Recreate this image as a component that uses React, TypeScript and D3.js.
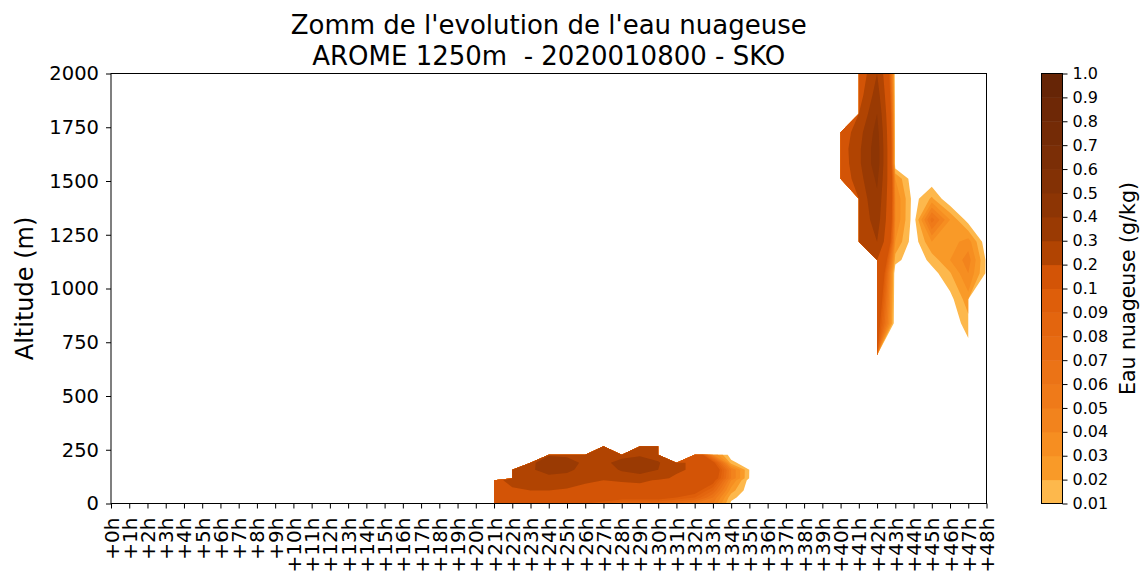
import React, { useEffect, useRef } from 'react';
import * as d3 from 'd3';

// Echéances affichées sur l'axe des x (heures depuis le run)
const leadHours = d3.range(0, 49);
const altitudeTicks = [0, 250, 500, 750, 1000, 1250, 1500, 1750, 2000];

// Niveaux de contourf et étiquettes de la barre de couleur
const cloudLevels = [0.01, 0.02, 0.03, 0.04, 0.05, 0.06, 0.07, 0.08, 0.09, 0.1, 0.2, 0.3, 0.4, 0.5, 0.6, 0.7, 0.8, 0.9, 1.0];
const cloudLevelLabels = ['0.01', '0.02', '0.03', '0.04', '0.05', '0.06', '0.07', '0.08', '0.09', '0.1', '0.2', '0.3', '0.4', '0.5', '0.6', '0.7', '0.8', '0.9', '1.0'];

// Nuage bas (brouillard / stratus) : une colonne par échéance, valeurs par altitude, null = masqué
const lowHours = [21, 22, 23, 24, 25, 26, 27, 28, 29, 30, 31, 32, 33, 34, 35];
const lowAltitudes = [0, 28, 60, 108, 118, 157, 190, 227, 266];
const lowCloud: (number | null)[][] = [
  [0.12, 0.14, 0.16, 0.18, null, null, null, null, null],
  [0.13, 0.16, 0.19, 0.22, 0.23, 0.25, null, null, null],
  [0.13, 0.17, 0.2, 0.24, 0.26, 0.29, 0.28, null, null],
  [0.12, 0.16, 0.2, 0.25, 0.28, 0.33, 0.35, 0.29, null],
  [0.11, 0.15, 0.19, 0.24, 0.27, 0.32, 0.34, 0.28, null],
  [0.1, 0.14, 0.18, 0.21, 0.23, 0.27, 0.28, 0.26, null],
  [0.09, 0.12, 0.16, 0.2, 0.22, 0.26, 0.28, 0.25, 0.21],
  [0.08, 0.11, 0.15, 0.21, 0.25, 0.31, 0.33, 0.27, null],
  [0.08, 0.11, 0.15, 0.22, 0.27, 0.33, 0.34, 0.29, 0.22],
  [0.08, 0.11, 0.14, 0.19, 0.23, 0.3, 0.31, 0.25, 0.2],
  [0.07, 0.1, 0.13, 0.16, 0.18, 0.22, 0.22, null, null],
  [0.06, 0.09, 0.11, 0.14, 0.16, 0.18, 0.18, 0.15, null],
  [0.05, 0.06, 0.08, 0.11, 0.12, 0.13, 0.11, 0.04, null],
  [0.008, 0.013, 0.025, 0.04, 0.05, 0.05, 0.014, 0.003, null],
  [0.001, 0.003, 0.003, 0.005, 0.0095, 0.0098, 0.001, 0, null],
];

// Nuages d'altitude en fin de run
const highHours = [40, 41, 42, 43, 44, 45, 46, 47, 48];
const highAltitudes = [690, 838, 950, 1071, 1132, 1217, 1320, 1418, 1511, 1581, 1650, 1727, 1813, 1900, 2000];
const highCloud: (number | null)[][] = [
  [null, null, null, null, null, null, null, null, 0.11, 0.13, 0.14, 0.12, null, null, null],
  [null, null, null, null, null, 0.2, 0.22, 0.23, 0.26, 0.28, 0.28, 0.26, 0.2, 0.15, 0.12],
  [0.1, 0.12, 0.14, 0.17, 0.2, 0.3, 0.35, 0.38, 0.42, 0.46, 0.46, 0.44, 0.4, 0.35, 0.3],
  [null, 0, 0, 0, 0.015, 0.03, 0.04, 0.04, 0.03, 0, 0, 0, 0, 0, 0],
  [0, 0, 0, 0, 0, 0.003, 0.004, 0.005, 0.002, 0, 0, 0, 0, 0, 0],
  [0, 0, 0, 0.005, 0.014, 0.03, 0.065, 0.022, 0.002, 0, 0, 0, 0, 0, 0],
  [0, 0.001, 0.006, 0.019, 0.03, 0.025, 0.03, 0, 0, 0, 0, 0, 0, 0, 0],
  [0.003, 0.016, 0.026, 0.04, 0.045, 0.035, 0.005, 0, 0, 0, 0, 0, 0, 0, 0],
  [null, null, null, 0.008, 0.008, 0.002, 0, 0, 0, 0, 0, 0, 0, 0, 0],
];

// une couleur par bande [niveau i, niveau i+1]
const cloudColors = [
  '#fdb84c', '#f99a28', '#f68e21', '#f2831d', '#ef7a19', '#eb7316', '#e76b12', '#e3650e', '#de5e0a',
  '#d35406', '#b14402', '#9a3a03', '#8d3504', '#833105', '#7b2e06', '#742b06', '#6e2806', '#662506',
];

const MASKED = -1e6; // hors masque : le contour passe sur le point valide

const W = 1145;
const H = 581;
const plot = { left: 111, right: 986.5, top: 73.5, bottom: 503.5 };
const cbar = { left: 1041.5, right: 1062.5 };
const font = "'DejaVu Sans', sans-serif";

export default function App() {
  const svgRef = useRef<SVGSVGElement>(null);

  useEffect(() => {
    if (!svgRef.current) return;
    const svg = d3.select(svgRef.current);
    svg.selectAll('*').remove();

    const x = d3.scaleLinear().domain([0, 48]).range([plot.left, plot.right]);
    const y = d3.scaleLinear().domain([0, 2000]).range([plot.bottom, plot.top]);

    svg.append('defs').append('clipPath').attr('id', 'plot-area')
      .append('rect')
      .attr('x', plot.left).attr('y', plot.top)
      .attr('width', plot.right - plot.left).attr('height', plot.bottom - plot.top);

    const fills = svg.append('g').attr('clip-path', 'url(#plot-area)');

    const grids = [
      { hours: lowHours, alts: lowAltitudes, cloud: lowCloud },
      { hours: highHours, alts: highAltitudes, cloud: highCloud },
    ];

    grids.forEach(({ hours, alts, cloud }) => {
      const nx = hours.length;
      const ny = alts.length;
      const values: number[] = [];
      for (let j = 0; j < ny; j++) {
        for (let i = 0; i < nx; i++) {
          const v = cloud[i][j];
          values.push(v == null ? MASKED : v);
        }
      }
      // index de grille -> heure / altitude (grille non régulière)
      const col = d3.scaleLinear().domain(d3.range(nx)).range(hours).clamp(true);
      const row = d3.scaleLinear().domain(d3.range(ny)).range(alts).clamp(true);

      const bands = d3.contours().size([nx, ny]).thresholds(cloudLevels.slice(0, -1))(values);
      bands.forEach((band, k) => {
        let d = '';
        band.coordinates.forEach(polygon => {
          polygon.forEach(ring => {
            d += 'M' + ring
              .map(([cx, cy]) => `${x(col(cx - 0.5)).toFixed(2)},${y(row(cy - 0.5)).toFixed(2)}`)
              .join('L') + 'Z';
          });
        });
        if (d) fills.append('path').attr('d', d).attr('fill', cloudColors[k]);
      });
    });

    // Axes
    const yAxis = svg.append('g')
      .attr('transform', `translate(${plot.left},0)`)
      .call(d3.axisLeft(y).tickValues(altitudeTicks).tickSize(5).tickPadding(7).tickFormat(d3.format('d')));
    yAxis.select('.domain').remove();
    yAxis.attr('font-size', 19.5).attr('font-family', font);
    yAxis.selectAll('text').attr('fill', '#000');

    const xAxis = svg.append('g')
      .attr('transform', `translate(0,${plot.bottom})`)
      .call(d3.axisBottom(x).tickValues(leadHours).tickSize(5).tickFormat(h => `+${h}h`));
    xAxis.select('.domain').remove();
    xAxis.attr('font-size', 20).attr('font-family', font);
    xAxis.selectAll('text')
      .attr('fill', '#000')
      .attr('transform', 'rotate(-90)')
      .attr('text-anchor', 'end')
      .attr('x', -14)
      .attr('y', 0)
      .attr('dy', '0.35em');

    svg.append('rect')
      .attr('x', plot.left).attr('y', plot.top)
      .attr('width', plot.right - plot.left).attr('height', plot.bottom - plot.top)
      .attr('fill', 'none').attr('stroke', '#000').attr('stroke-width', 1);

    svg.append('text')
      .attr('transform', `translate(33,${(plot.top + plot.bottom) / 2}) rotate(-90)`)
      .attr('text-anchor', 'middle')
      .attr('font-family', font).attr('font-size', 24)
      .text('Altitude (m)');

    // Titre
    const title = svg.append('text')
      .attr('text-anchor', 'middle')
      .attr('font-family', font).attr('font-size', 26)
      .attr('fill', '#000');
    title.append('tspan').attr('x', (plot.left + plot.right) / 2).attr('y', 34)
      .text("Zomm de l'evolution de l'eau nuageuse");
    title.append('tspan').attr('x', (plot.left + plot.right) / 2).attr('y', 65)
      .attr('xml:space', 'preserve').style('white-space', 'pre')
      .text('AROME 1250m  - 2020010800 - SKO');

    // Barre de couleur
    const cb = d3.scalePoint<string>().domain(cloudLevelLabels).range([plot.bottom, plot.top]);
    svg.append('g').selectAll('rect')
      .data(cloudColors)
      .join('rect')
      .attr('x', cbar.left)
      .attr('width', cbar.right - cbar.left)
      .attr('y', (_, i) => cb(cloudLevelLabels[i + 1]) as number)
      .attr('height', (_, i) => (cb(cloudLevelLabels[i]) as number) - (cb(cloudLevelLabels[i + 1]) as number) + 0.5)
      .attr('fill', c => c);

    svg.append('rect')
      .attr('x', cbar.left).attr('y', plot.top)
      .attr('width', cbar.right - cbar.left).attr('height', plot.bottom - plot.top)
      .attr('fill', 'none').attr('stroke', '#000').attr('stroke-width', 1);

    const cAxis = svg.append('g')
      .attr('transform', `translate(${cbar.right},0)`)
      .call(d3.axisRight(cb).tickSize(5).tickPadding(5));
    cAxis.select('.domain').remove();
    cAxis.attr('font-size', 16).attr('font-family', font);
    cAxis.selectAll('text').attr('fill', '#000');

    svg.append('text')
      .attr('transform', `translate(1135,${(plot.top + plot.bottom) / 2}) rotate(-90)`)
      .attr('text-anchor', 'middle')
      .attr('font-family', font).attr('font-size', 20.5)
      .text('Eau nuageuse (g/kg)');
  }, []);

  return (
    <svg
      ref={svgRef}
      width={W}
      height={H}
      style={{ position: 'absolute', left: 0, top: 0, background: '#fff' }}
    />
  );
}
